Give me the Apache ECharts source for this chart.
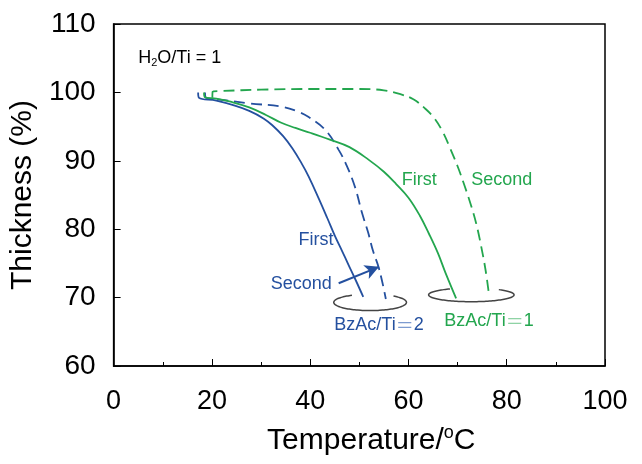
<!DOCTYPE html>
<html>
<head>
<meta charset="utf-8">
<script src="https://cdn.jsdelivr.net/npm/echarts/dist/echarts.min.js"></script>
<style>
  html, body { margin: 0; padding: 0; background: #fff; }
  #main { width: 642px; height: 464px; }
</style>
</head>
<body>
<div id="main"></div>
<script>
// thickness (%) vs temperature (oC)
var blueFirst = [[17.2,100.0],[17.4,99.2],[20.9,98.8],[24.5,98.1],[27.6,97.3],[30.5,96.2],[32.3,95.2],[34.5,93.6],[36.4,91.8],[38.2,89.7],[39.7,87.7],[41.8,84.4],[43.5,81.6],[45.1,78.9],[46.5,76.8],[47.8,74.8],[49.3,72.5],[50.8,70.1]];
var blueSecond = [[18.6,100.0],[18.8,99.2],[21,99.0],[27.6,98.4],[34.3,97.9],[37.5,97.2],[39.7,96.4],[43.1,94.5],[45.8,91.6],[47.5,89.2],[49.2,86.0],[50.5,82.5],[51.8,79.5],[52.8,76.8],[53.9,74.5],[54.7,72.2],[55.4,69.8]];
var greenFirst = [[18.4,100.0],[18.6,99.3],[20.9,99.1],[24,98.6],[27.6,97.8],[31,96.7],[34,95.6],[37,94.8],[40,94.1],[44,93.1],[48,92.0],[52,90.1],[55,88.4],[57.5,86.6],[60,84.6],[62.3,82.0],[64.2,79.3],[66,76.5],[67.5,73.7],[69.7,69.9]];
var greenSecond = [[20.1,99.2],[20.15,100.1],[22,100.2],[30,100.4],[40,100.5],[50,100.5],[55,100.3],[58.5,99.7],[61,99.0],[63.3,97.7],[65.3,96.2],[67,94.2],[68.5,91.8],[70,89.2],[71.3,86.6],[72.6,83.8],[73.8,80.8],[74.8,77.5],[75.7,74],[76.4,70.4]];

// circled ends: centre x, centre y, radius x, radius y (data units)
var rings = [[52.2,69.3,7.4,1.2],[72.8,70.4,8.7,1.0]];

// annotations
var blackNotes = [[5.0,105.0]];
var blackText = ['H{s|2}O/Ti = 1'];
var blueNotes = [[41.2,78.4],[38.2,72.0],[54.0,66.0]];
var blueText = ['First','Second','BzAc/Ti{e|＝}2'];
var greenNotes = [[62.2,87.2],[79.0,87.2],[76.4,66.6]];
var greenText = ['First','Second','BzAc/Ti{e|＝}1'];
var arrowTail = [45.8,72.1];
var arrowHead = [54.0,74.5];

var BLUE = '#24509f';
var GREEN = '#23a64e';
var FONT = '"Liberation Sans", Arial, sans-serif';

function noteSeries(points, texts, color, align, eqColor){
    return {
        type: 'custom',
        data: points,
        silent: true,
        z: 10,
        renderItem: function(params, api){
            var p = api.coord([api.value(0), api.value(1)]);
            return {
                type: 'text',
                x: p[0], y: p[1],
                style: {
                    text: texts[params.dataIndex],
                    fill: color,
                    font: '18px ' + FONT,
                    align: align,
                    verticalAlign: 'middle',
                    rich: {
                        s: { fontSize: 11, fontFamily: 'Liberation Sans', fill: color, padding: [9,0,0,0] },
                        e: { fontSize: 18, fontFamily: 'Noto Sans CJK SC', fill: eqColor }
                    }
                }
            };
        }
    };
}

function curve(data, color, dashed){
    return {
        type: 'line', data: data, showSymbol: false,
        smooth: 0.4,
        lineStyle: { color: color, width: 1.8, type: dashed ? [11,6] : 'solid' }
    };
}

var myChart = echarts.init(document.getElementById('main'));
var blueDash = curve(blueSecond, BLUE, true);
blueDash.markLine = {
    silent: true, animation: false,
    symbol: ['none','arrow'], symbolSize: [11,14],
    label: { show: false },
    lineStyle: { color: BLUE, width: 2, type: 'solid' },
    data: [[{ coord: arrowTail }, { coord: arrowHead }]]
};
var option = {
    animation: false,
    backgroundColor: '#fff',
    grid: { left: 110, top: 24, right: 37, bottom: 98, show: true, borderColor: '#000', borderWidth: 1.5 },
    xAxis: {
        type: 'value', min: 0, max: 100, interval: 20,
        name: 'Temperature/{sup|o}C',
        nameLocation: 'middle', nameGap: 58,
        nameTextStyle: { fontSize: 30, color: '#000', fontFamily: FONT, padding: [0,0,0,24],
            rich: { sup: { fontSize: 18, color: '#000', fontFamily: FONT, padding: [0,0,16,0] } } },
        axisLine: { lineStyle: { color: '#000', width: 1.5 } },
        axisTick: { inside: true, length: 7, lineStyle: { color: '#000' } },
        minorTick: { show: true, splitNumber: 2, length: 4, lineStyle: { color: '#000' } },
        axisLabel: { fontSize: 27, color: '#000', fontFamily: FONT, margin: 22 },
        splitLine: { show: false }
    },
    yAxis: {
        type: 'value', min: 60, max: 110, interval: 10,
        name: 'Thickness (%)',
        nameLocation: 'middle', nameGap: 70,
        nameTextStyle: { fontSize: 30, color: '#000', fontFamily: FONT },
        axisLine: { lineStyle: { color: '#000', width: 1.5 } },
        axisTick: { inside: true, length: 7, lineStyle: { color: '#000' } },
        axisLabel: { fontSize: 28, color: '#000', fontFamily: FONT, margin: 18 },
        splitLine: { show: false }
    },
    series: [
        curve(blueFirst, BLUE, false),
        blueDash,
        curve(greenFirst, GREEN, false),
        curve(greenSecond, GREEN, true),
        {
            type: 'custom',
            data: rings,
            silent: true,
            renderItem: function(params, api){
                var c = api.coord([api.value(0), api.value(1)]);
                var s = api.size([api.value(2), api.value(3)]);
                var pts = [];
                // open at the top where the curves come in
                for (var a = -50; a <= 240; a += 5){
                    var t = a * Math.PI / 180;
                    pts.push([c[0] + s[0] * Math.cos(t), c[1] + s[1] * Math.sin(t)]);
                }
                return { type: 'polyline', shape: { points: pts, smooth: 0.3 },
                         style: { stroke: '#444', lineWidth: 1.5, fill: null } };
            }
        },
        noteSeries(blackNotes, blackText, '#000', 'left', '#000'),
        noteSeries(blueNotes, blueText, BLUE, 'center', '#7d9bd0'),
        noteSeries(greenNotes, greenText, GREEN, 'center', '#8fd3a5')
    ]
};
myChart.setOption(option);
</script>
</body>
</html>
